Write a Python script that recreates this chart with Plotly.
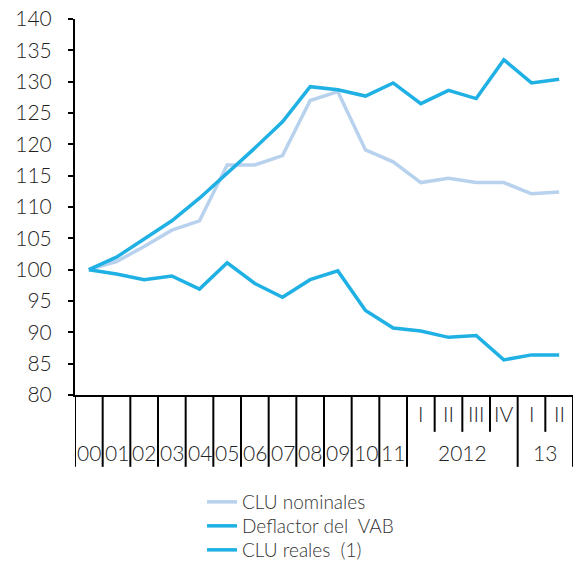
import plotly.graph_objects as go

# ---- data ----
years = ["00", "01", "02", "03", "04", "05", "06", "07", "08", "09", "10", "11",
         "2012", "2012", "2012", "2012", "13", "13"]
quarters = ["", "", "", "", "", "", "", "", "", "", "", "",
            "I", "II", "III", "IV", "I", "II"]
clu_nominales = [100, 101.3, 103.7, 106.3, 107.8, 116.7, 116.7, 118.2, 127.0, 128.4,
                 119.1, 117.2, 113.9, 114.6, 113.9, 113.9, 112.1, 112.4]
deflactor_vab = [100, 102.0, 104.9, 107.8, 111.4, 115.4, 119.4, 123.6, 129.2, 128.7,
                 127.7, 129.8, 126.5, 128.6, 127.3, 133.5, 129.8, 130.4]
clu_reales = [100, 99.3, 98.4, 99.0, 96.9, 101.1, 97.8, 95.6, 98.4, 99.8,
              93.5, 90.7, 90.2, 89.2, 89.5, 85.6, 86.4, 86.4]
y_ticks = [80, 85, 90, 95, 100, 105, 110, 115, 120, 125, 130, 135, 140]

LIGHT = "#b8d2ee"
BLUE = "#1fb0e4"
FONT = "Lato"
TXT = "#222222"
W = 300

x = list(range(len(years)))

fig = go.Figure()
fig.add_trace(go.Scatter(x=x, y=clu_nominales, mode="lines", name="CLU nominales",
                         line=dict(color=LIGHT, width=3.5), legend="legend"))
fig.add_trace(go.Scatter(x=x, y=deflactor_vab, mode="lines", name="Deflactor del  VAB",
                         line=dict(color=BLUE, width=3.5), legend="legend2"))
fig.add_trace(go.Scatter(x=x, y=clu_reales, mode="lines", name="CLU reales  (1)",
                         line=dict(color=BLUE, width=3.5), legend="legend3"))

shapes = []
annotations = []
FULL = -0.191
SHORT = -0.098
Y_YEAR = -0.154
Y_Q = -0.048

# runs of the same year
runs = []
start = 0
for i in range(1, len(years) + 1):
    if i == len(years) or years[i] != years[start]:
        runs.append((years[start], start, i - 1))
        start = i

for label, a, b in runs:
    shapes.append(dict(type="line", xref="x", yref="paper", x0=a - 0.5, x1=a - 0.5,
                       y0=0, y1=FULL, line=dict(color="black", width=2)))
    annotations.append(dict(x=(a + b) / 2, y=Y_YEAR, xref="x", yref="paper",
                            xanchor="center", yanchor="middle",
                            text=label, showarrow=False,
                            font=dict(family=FONT, size=21, color=TXT, weight=W)))
    for j in range(a, b + 1):
        if quarters[j]:
            if j > a:
                shapes.append(dict(type="line", xref="x", yref="paper", x0=j - 0.5, x1=j - 0.5,
                                   y0=0, y1=SHORT, line=dict(color="black", width=2)))
            annotations.append(dict(x=j, y=Y_Q, xref="x", yref="paper",
                                    xanchor="center", yanchor="middle",
                                    text=quarters[j], showarrow=False,
                                    font=dict(family=FONT, size=21, color=TXT, weight=W)))
last = len(years) - 1
shapes.append(dict(type="line", xref="x", yref="paper", x0=last + 0.5, x1=last + 0.5,
                   y0=0, y1=FULL, line=dict(color="black", width=2)))

LEG_X = (202 - 75) / 498
leg_common = dict(x=LEG_X, xanchor="left", yanchor="middle",
                  font=dict(family=FONT, size=19, color="#333333", weight=W),
                  itemwidth=30, bgcolor="rgba(0,0,0,0)")

fig.update_layout(
    width=578, height=564,
    margin=dict(l=75, r=5, t=19, b=169, autoexpand=False),
    paper_bgcolor="white", plot_bgcolor="white",
    font=dict(family=FONT, size=21, color=TXT, weight=W),
    showlegend=True,
    legend=dict(y=-(502 - 395) / 376, **leg_common),
    legend2=dict(y=-(526 - 395) / 376, **leg_common),
    legend3=dict(y=-(550 - 395) / 376, **leg_common),
    xaxis=dict(range=[-0.5, len(years) - 0.5], showgrid=False, zeroline=False,
               showticklabels=False, ticks="", showline=True, linecolor="black",
               linewidth=2),
    yaxis=dict(range=[80, 140], tickvals=y_ticks, showgrid=False, zeroline=False,
               ticks="outside", ticklen=5, tickwidth=2, tickcolor="black",
               showline=True, linecolor="black", linewidth=2,
               ticklabelstandoff=12,
               tickfont=dict(family=FONT, size=21, color=TXT, weight=W)),
    shapes=shapes,
    annotations=annotations,
)

fig.write_html("out.html", config={"displayModeBar": False},
               post_script="document.body.style.margin='0px';")
